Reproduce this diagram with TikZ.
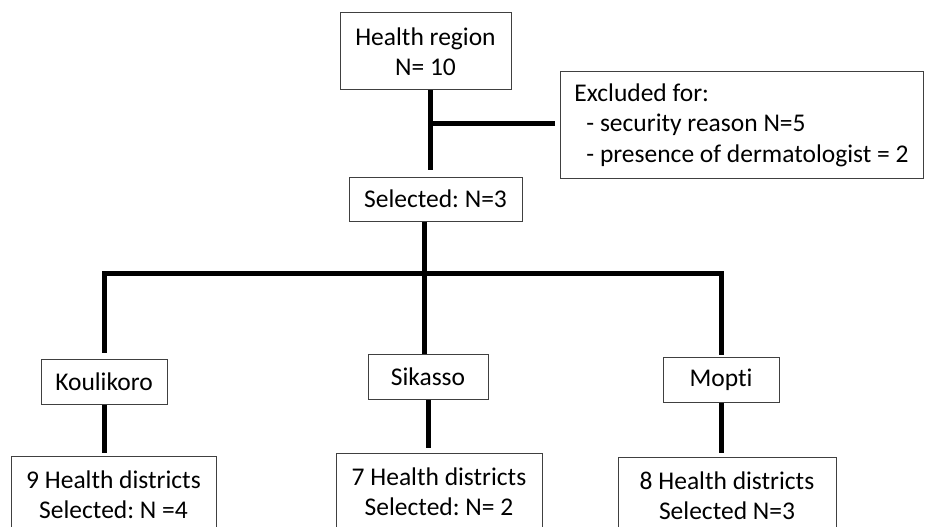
\documentclass[tikz,border=0pt]{standalone}
\usepackage{fontspec}
\setmainfont{Carlito}[Ligatures=NoCommon]
\frenchspacing
\usepackage{tikz}
\usetikzlibrary{positioning,calc}

\begin{document}
\begin{tikzpicture}[x=1pt,y=-1pt,font=\fontsize{25.5pt}{30.5pt}\selectfont,
  box/.style={draw=black!75,line width=1pt,inner sep=0pt,align=center},
  link/.style={line width=5pt,line join=miter}]
\useasboundingbox (0,0) rectangle (927,527);
\clip (0,0) rectangle (927,527);
% top of the flow
\node[box,minimum width=171pt,minimum height=77pt] (hr) at (425.5,51.5) {Health region\\N= 10};
\node[box,align=left,minimum width=363pt,minimum height=106pt] (excl) at (741.5,125)
  {Excluded for:\\\hspace*{12pt}- security reason N=5\\\hspace*{12pt}- presence of dermatologist = 2};
\node[box,minimum width=173pt,minimum height=44pt] (sel) at (435.5,199) {Selected: N=3};
% regions
\node[box,minimum width=126pt,minimum height=45pt] (kou) at (104,381.5) {Koulikoro};
\node[box,minimum width=120pt,minimum height=45pt] (sik) at (428,376.5) {Sikasso};
\node[box,minimum width=116pt,minimum height=45pt] (mop) at (721,379.5) {Mopti};
% districts
\node[box,anchor=north,minimum width=205pt,minimum height=76pt] (dkou) at (113.5,456) {9 Health districts\\Selected: N =4};
\node[box,anchor=north,minimum width=206pt,minimum height=76pt] (dsik) at (439,453) {7 Health districts\\Selected: N= 2};
\node[box,anchor=north,minimum width=218pt,minimum height=76pt] (dmop) at (727,457) {8 Health districts\\Selected N=3};
% connectors
\coordinate (ex) at (430,123);
\coordinate (bar) at (424,273);
\draw[link,shorten >=7pt] ([xshift=4.5pt]hr.south) -- ([xshift=4.5pt]hr.south |- sel.north);
\draw[link,shorten >=5pt] (ex) -- (excl.west |- ex);
\draw[link] (sel.south -| bar) -- (bar);
\draw[link,shorten <=6pt,shorten >=2pt] (kou.north) -- (kou.north |- bar) -- (mop.north |- bar) -- (mop.north);
\draw[link] (bar) -- (sik.north -| bar);
\draw[link,shorten >=3pt] (kou.south) -- (kou.south |- dkou.north);
\draw[link,shorten >=5pt] (sik.south) -- (sik.south |- dsik.north);
\draw[link,shorten >=4pt] (mop.south) -- (mop.south |- dmop.north);
\end{tikzpicture}
\end{document}
